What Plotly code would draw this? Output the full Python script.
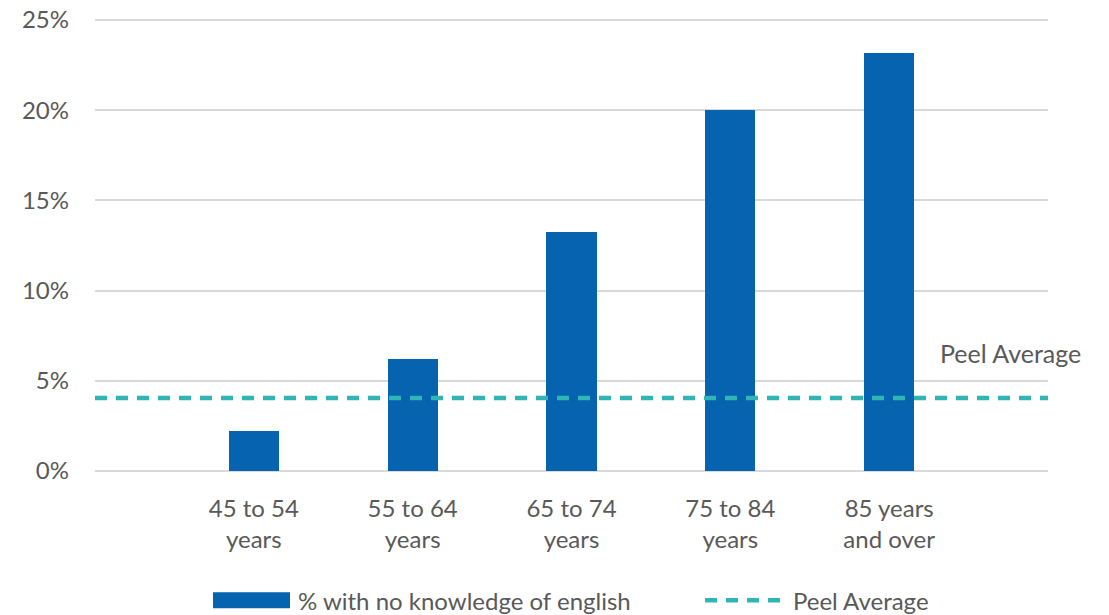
import plotly.graph_objects as go

categories = ["45 to 54<br>years", "55 to 64<br>years", "65 to 74<br>years",
              "75 to 84<br>years", "85 years<br>and over"]
positions = [1, 2, 3, 4, 5]
pct_no_english = [2.24, 6.21, 13.26, 20.0, 23.16]
peel_average = 4.05
bar_name = "% with no knowledge of english"
avg_name = "Peel Average"
y_ticks = [0, 5, 10, 15, 20, 25]
y_tick_labels = ["0%", "5%", "10%", "15%", "20%", "25%"]

BAR_COLOR = "#0563B0"
AVG_COLOR = "#2FB5B3"
TEXT_COLOR = "#595959"
FONT = "Lato"
FS = 24

# body margin is removed by post_script, so figure pixels = page pixels
Y_TOP = 25.5
PX_PER_UNIT = (471.5 - 20) / 25.0
top_px = 471.5 - Y_TOP * PX_PER_UNIT
W, H = 1109, 615
L, T = 95, top_px
R = W - 1048
B = H - 471.5
PW, PH = W - L - R, H - T - B

def px(x):
    return (x - L) / PW

def py(y):
    return (H - B - y) / PH

fig = go.Figure()
fig.add_trace(go.Bar(x=positions, y=pct_no_english, width=0.315,
                     marker=dict(color=BAR_COLOR, line=dict(width=0)),
                     name=bar_name, showlegend=False))
fig.add_trace(go.Scatter(x=[0, 6], y=[peel_average, peel_average], mode="lines",
                         line=dict(color=AVG_COLOR, width=4.5, dash="12px,9px"),
                         name=avg_name, showlegend=False))

# Custom legend
shapes = [
    dict(type="rect", xref="paper", yref="paper", x0=px(213), x1=px(290),
         y0=py(609), y1=py(593), fillcolor=BAR_COLOR, line=dict(width=0)),
    dict(type="line", xref="paper", yref="paper", x0=px(705), x1=px(783),
         y0=py(601), y1=py(601), line=dict(color=AVG_COLOR, width=4.5, dash="12px,9px")),
]
annotations = [
    dict(xref="paper", yref="paper", x=px(296), y=py(601), text=bar_name,
         showarrow=False, xanchor="left", yanchor="middle",
         font=dict(family=FONT, size=FS, color=TEXT_COLOR)),
    dict(xref="paper", yref="paper", x=px(791), y=py(601), text=avg_name,
         showarrow=False, xanchor="left", yanchor="middle",
         font=dict(family=FONT, size=FS, color=TEXT_COLOR)),
    dict(xref="paper", yref="paper", x=px(1010), y=py(353), text=avg_name,
         showarrow=False, xanchor="center", yanchor="middle",
         font=dict(family=FONT, size=25, color=TEXT_COLOR)),
]

fig.update_layout(
    width=W, height=H,
    margin=dict(l=L, r=R, t=T, b=B, pad=0, autoexpand=False),
    paper_bgcolor="white", plot_bgcolor="white",
    font=dict(family=FONT, size=FS, color=TEXT_COLOR),
    shapes=shapes, annotations=annotations,
    showlegend=False,
    bargap=0,
)
fig.update_xaxes(range=[0, 6], tickvals=positions, ticktext=categories,
                 showgrid=False, zeroline=False, showline=False, ticks="",
                 automargin=False,
                 tickfont=dict(family=FONT, size=FS, color=TEXT_COLOR),
                 ticklabelstandoff=21)
fig.update_yaxes(range=[0, Y_TOP], tickvals=y_ticks, ticktext=y_tick_labels,
                 showgrid=True, gridcolor="#D9D9D9", gridwidth=2,
                 zeroline=True, zerolinecolor="#D9D9D9", zerolinewidth=2,
                 showline=False, ticks="", automargin=False,
                 ticklabeloverflow="allow",
                 tickfont=dict(family=FONT, size=FS, color=TEXT_COLOR),
                 ticklabelstandoff=25)

fig.write_html("out.html", config={"displayModeBar": False},
               post_script="document.body.style.margin='0';document.body.style.overflow='hidden';")
